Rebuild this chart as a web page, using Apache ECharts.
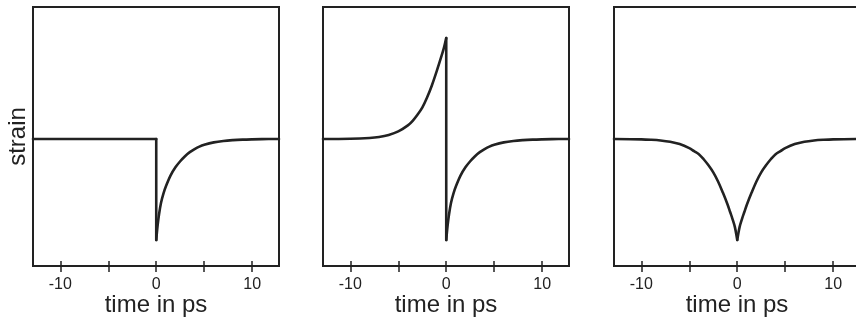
<!DOCTYPE html>
<html>
<head>
<meta charset="utf-8">
<script src="https://cdn.jsdelivr.net/npm/echarts@6/dist/echarts.min.js"></script>
<style>
html,body{margin:0;padding:0;background:#fff;}
#c{width:856px;height:322px;}
</style>
</head>
<body>
<div id="c"></div>
<script>
// ---- data ----
const xTicks = [-10, -5, 0, 5, 10];
const xTickLabels = [-10, 0, 10];
const xName = 'time in ps';
const yName = 'strain';

// panel 1: flat, step down at t=0, then recovery (segments)
const p1Flat_t = [-12.85, 0];
const p1Flat_s = [0, 0];
const p1Jump_t = [0, 0];
const p1Jump_s = [0, -1];
const p1Rec_t = [0, 0.15, 0.3, 0.5, 0.75, 1, 1.5, 2, 2.5, 3, 3.5, 4, 4.5, 5, 6, 7, 8, 9, 10, 11, 12.8];
const p1Rec_s = [-1, -0.85, -0.74, -0.63, -0.54, -0.47, -0.36, -0.28, -0.22, -0.17, -0.13, -0.1, -0.075, -0.057, -0.033, -0.019, -0.011, -0.006, -0.003, -0.001, 0];

// panel 2: rise before t=0, jump to negative, recovery
const p2Rise_t = [-12.85, -10, -8, -7, -6, -5, -4, -3.5, -3, -2.5, -2, -1.5, -1, -0.5, -0.25, 0];
const p2Rise_s = [0, 0.002, 0.01, 0.02, 0.04, 0.075, 0.135, 0.18, 0.24, 0.31, 0.41, 0.53, 0.67, 0.82, 0.9, 1.0];
const p2Jump_t = [0, 0];
const p2Jump_s = [1.0, -1];
const p2Rec_t = [0, 0.15, 0.3, 0.5, 0.75, 1, 1.5, 2, 2.5, 3, 3.5, 4, 4.5, 5, 6, 7, 8, 9, 10, 11, 12.8];
const p2Rec_s = [-1, -0.85, -0.74, -0.63, -0.54, -0.47, -0.36, -0.28, -0.22, -0.17, -0.13, -0.1, -0.075, -0.057, -0.033, -0.019, -0.011, -0.006, -0.003, -0.001, 0];

// panel 3: symmetric dip (left and right branches)
const p3Left_t = [-12.85, -10, -9, -8, -7, -6, -5, -4.5, -4, -3.5, -3, -2.5, -2, -1.5, -1, -0.75, -0.5, -0.25, 0];
const p3Left_s = [0, -0.003, -0.007, -0.014, -0.027, -0.05, -0.09, -0.12, -0.15, -0.2, -0.26, -0.33, -0.42, -0.53, -0.65, -0.72, -0.79, -0.87, -1];
const p3Right_t = [0, 0.25, 0.5, 0.75, 1, 1.5, 2, 2.5, 3, 3.5, 4, 4.5, 5, 6, 7, 8, 9, 10, 12.85];
const p3Right_s = [-1, -0.87, -0.79, -0.72, -0.65, -0.53, -0.42, -0.33, -0.26, -0.2, -0.15, -0.12, -0.09, -0.05, -0.027, -0.014, -0.007, -0.003, 0];

const xMin = -12.85, xMax = 12.8;
const yMin = -1.257, yMax = 1.307;

// ---- chart ----
const INK = '#222';
const FONT = "'Liberation Sans', Arial, Helvetica, sans-serif";
const gridLefts = [33, 323, 614];
const panels = [
  [[p1Flat_t, p1Flat_s, false], [p1Jump_t, p1Jump_s, false], [p1Rec_t, p1Rec_s, true]],
  [[p2Rise_t, p2Rise_s, true], [p2Jump_t, p2Jump_s, false], [p2Rec_t, p2Rec_s, true]],
  [[p3Left_t, p3Left_s, true], [p3Right_t, p3Right_s, true]]
];

const grid = gridLefts.map(l => ({
  left: l, top: 7, width: 246, height: 259,
  outerBoundsMode: 'none', containLabel: false,
  show: true, borderColor: INK, borderWidth: 2, backgroundColor: 'transparent'
}));

const xAxis = [];
const yAxis = [];
const series = [];
panels.forEach((segs, i) => {
  xAxis.push({
    type: 'value', gridIndex: i, min: xMin, max: xMax, position: 'bottom',
    name: xName, nameLocation: 'middle', nameGap: 27, nameMoveOverlap: false,
    nameTextStyle: {fontSize: 24, color: INK, fontFamily: FONT},
    axisLine: {show: true, onZero: false, lineStyle: {color: INK, width: 2}},
    axisTick: {show: true, inside: false, length: 6, customValues: xTicks, lineStyle: {color: INK, width: 1.5}},
    axisLabel: {show: true, customValues: xTickLabels, fontSize: 16, color: INK, fontFamily: FONT, margin: 11},
    splitLine: {show: false}
  });
  xAxis.push({
    type: 'value', gridIndex: i, min: xMin, max: xMax, position: 'bottom',
    axisLine: {show: false, onZero: false},
    axisTick: {show: true, inside: true, length: 5, customValues: xTicks, lineStyle: {color: INK, width: 1.5}},
    axisLabel: {show: false},
    splitLine: {show: false}
  });
  yAxis.push({
    type: 'value', gridIndex: i, min: yMin, max: yMax,
    name: i === 0 ? yName : '', nameLocation: 'middle', nameGap: 3, nameRotate: 90,
    nameTextStyle: {fontSize: 24, color: INK, fontFamily: FONT},
    axisLine: {show: false, onZero: false}, axisTick: {show: false}, axisLabel: {show: false},
    splitLine: {show: false}
  });
  segs.forEach(seg => {
    series.push({
      type: 'line', xAxisIndex: 2 * i, yAxisIndex: i,
      data: seg[0].map((t, k) => [t, seg[1][k]]),
      showSymbol: false, symbol: 'none', smooth: seg[2] ? 0.35 : false,
      lineStyle: {color: INK, width: 2.6, join: 'round', cap: 'round'},
      animation: false, silent: true
    });
  });
});

const chart = echarts.init(document.getElementById('c'), null, {renderer: 'canvas'});
chart.setOption({
  animation: false,
  backgroundColor: '#fff',
  textStyle: {fontFamily: FONT},
  grid, xAxis, yAxis, series
});
</script>
</body>
</html>
